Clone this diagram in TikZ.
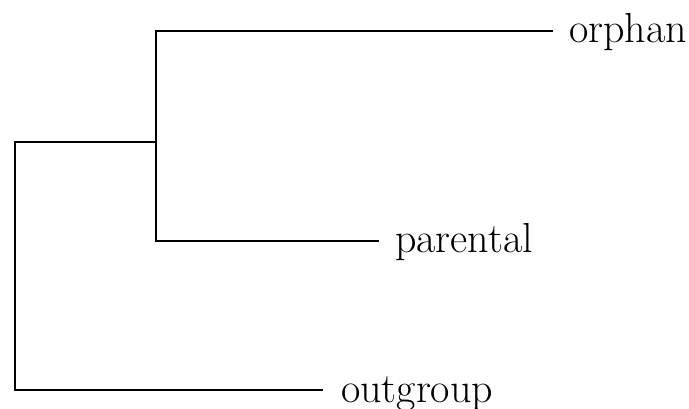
\documentclass[tikz,border=0pt]{standalone}
\begin{document}
\begin{tikzpicture}[x=1pt,y=-1pt,
  br/.style={line width=1.3pt, line cap=rect},
  lab/.style={anchor=base west, inner sep=0pt, font=\fontsize{42}{44}\selectfont}]
\useasboundingbox (0,0) rectangle (689,409);
\coordinate (root) at (15,142);
\coordinate (inner) at (156,142);
\coordinate (eo) at (552,31);
\coordinate (ep) at (378,241);
\coordinate (eg) at (322,390);
\node[lab] (orphan) at (569,43) {orphan};
\node[lab] (parental) at (395,253) {parental};
\node[lab] (outgroup) at (341,402) {outgroup};
\draw[br] (eo) -| (inner) |- (ep);
\draw[br] (inner) -- (root) |- (eg);
\end{tikzpicture}
\end{document}
